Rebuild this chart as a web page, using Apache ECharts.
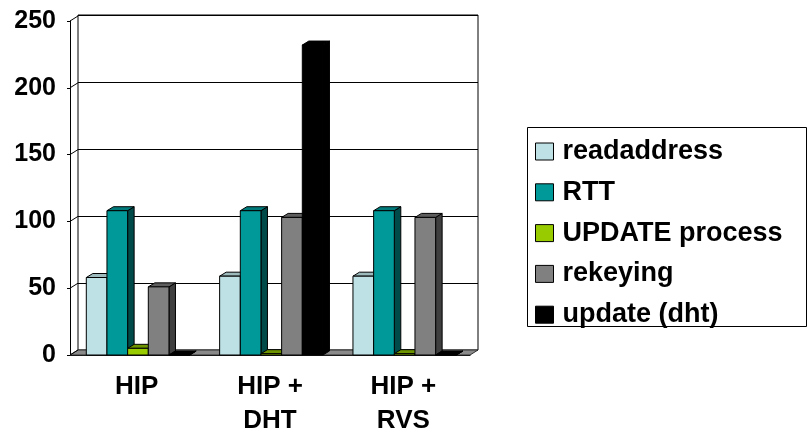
<!DOCTYPE html>
<html>
<head>
<meta charset="utf-8">
<script src="https://cdn.jsdelivr.net/npm/echarts@6/dist/echarts.min.js"></script>
<style>
  html, body { margin: 0; padding: 0; background: #fff; }
  #chart { width: 811px; height: 438px; }
</style>
</head>
<body>
<div id="chart"></div>
<script>
// Handover timing per scheme (ms)
const categories = ['HIP', 'HIP +\nDHT', 'HIP +\nRVS'];
const readaddress = [58, 59, 59];
const rtt = [108, 108, 108];
const updateProcess = [5, 1, 1];
const rekeying = [51, 103, 103];
const updateDht = [0, 232, 0];
const yTicks = [0, 50, 100, 150, 200, 250];
const seriesNames = ['readaddress', 'RTT', 'UPDATE process', 'rekeying', 'update (dht)'];
const seriesValues = [readaddress, rtt, updateProcess, rekeying, updateDht];

// front / top / side shades for the prism faces
const faces = [
  { front: '#BDE1E4', top: '#9CB9BC', side: '#6E8A8C' },
  { front: '#009999', top: '#007A7A', side: '#004A4A' },
  { front: '#99CC00', top: '#6E9400', side: '#4B6600' },
  { front: '#808080', top: '#5E5E5E', side: '#3F3F3F' },
  { front: '#000000', top: '#000000', side: '#000000' }
];

const FONT = "'Liberation Sans', Arial, sans-serif";
const DEPTH_X = 6.5, DEPTH_Y = 4;      // bar depth
const WALL_X = 8, WALL_Y = 5;          // plot box depth

function prism(k) {
  const f = faces[k];
  return function (params, api) {
    const c = api.value(0), v = api.value(1);
    const b = api.coord([c, 0]);
    const t = api.coord([c, v]);
    const cw = api.size([1, 0])[0];
    const bw = cw * 0.155;
    const x0 = b[0] - 2.5 * bw + k * bw + 1.3;
    const x1 = x0 + bw;
    const yb = b[1], yt = t[1];
    const edge = { stroke: '#000', lineWidth: 1, lineJoin: 'miter' };
    return {
      type: 'group',
      children: [
        { type: 'polygon',
          shape: { points: [[x1, yt], [x1 + DEPTH_X, yt - DEPTH_Y], [x1 + DEPTH_X, yb - DEPTH_Y], [x1, yb]] },
          style: Object.assign({ fill: f.side }, edge) },
        { type: 'polygon',
          shape: { points: [[x0, yt], [x0 + DEPTH_X, yt - DEPTH_Y], [x1 + DEPTH_X, yt - DEPTH_Y], [x1, yt]] },
          style: Object.assign({ fill: f.top }, edge) },
        { type: 'rect',
          shape: { x: x0, y: yt, width: bw, height: yb - yt },
          style: Object.assign({ fill: f.front }, edge) }
      ]
    };
  };
}

const barSeries = seriesNames.map((name, k) => ({
  name: name,
  type: 'custom',
  xAxisIndex: 0,
  yAxisIndex: 0,
  z: 3,
  itemStyle: { color: faces[k].front },
  encode: { x: 0, y: 1 },
  data: categories.map((_, i) => [i, seriesValues[k][i]]),
  renderItem: prism(k)
}));

// grey floor of the plot box
const floorSeries = {
  type: 'custom',
  xAxisIndex: 0,
  yAxisIndex: 0,
  z: 2,
  silent: true,
  data: [[0, 0]],
  renderItem: function (params) {
    const cs = params.coordSys;
    const yb = cs.y + cs.height;
    return {
      type: 'polygon',
      shape: { points: [[cs.x, yb], [cs.x + cs.width, yb], [cs.x + cs.width + WALL_X, yb - WALL_Y], [cs.x + WALL_X, yb - WALL_Y]] },
      style: { fill: '#8A8A8A', stroke: '#333', lineWidth: 1 }
    };
  }
};

// gridline links across the left side wall
const sideWallSeries = {
  type: 'custom',
  xAxisIndex: 0,
  yAxisIndex: 0,
  z: 2,
  silent: true,
  data: yTicks.map(v => [0, v]),
  renderItem: function (params, api) {
    const cs = params.coordSys;
    const p = api.coord([0, api.value(1)]);
    return {
      type: 'line',
      shape: { x1: cs.x, y1: p[1], x2: cs.x + WALL_X, y2: p[1] - WALL_Y },
      style: { stroke: '#000', lineWidth: 1 }
    };
  }
};

const chart = echarts.init(document.getElementById('chart'), null, { renderer: 'canvas' });
chart.setOption({
  animation: false,
  backgroundColor: '#fff',
  graphic: [{
    type: 'rect',
    z: 0,
    shape: { x: 527.5, y: 127.5, width: 279, height: 199 },
    style: { fill: '#fff', stroke: '#000', lineWidth: 1 }
  }],
  legend: {
    orient: 'vertical',
    left: 535,
    top: 138,
    padding: 0,
    z: 5,
    itemWidth: 18,
    itemHeight: 17,
    itemGap: 13.8,
    selectedMode: false,
    data: seriesNames.map(n => ({ name: n, icon: 'rect' })),
    itemStyle: { borderColor: '#000', borderWidth: 1 },
    textStyle: { fontFamily: FONT, fontSize: 27, fontWeight: 'bold', color: '#000', lineHeight: 26, padding: [0, 0, 0, 4] }
  },
  grid: [
    { left: 70, right: 341, top: 21, bottom: 83 },
    { left: 78, right: 333, top: 15, bottom: 88, show: true, borderColor: '#000', borderWidth: 1, backgroundColor: '#fff' }
  ],
  xAxis: [
    {
      type: 'category',
      gridIndex: 0,
      data: categories,
      axisLine: { lineStyle: { color: '#000', width: 1 } },
      axisTick: { length: 5, lineStyle: { color: '#000' } },
      axisLabel: { color: '#000', fontFamily: FONT, fontSize: 26, fontWeight: 'bold', lineHeight: 34, margin: 15 },
      splitLine: { show: false }
    },
    {
      type: 'category',
      gridIndex: 1,
      data: categories,
      show: false
    }
  ],
  yAxis: [
    {
      type: 'value',
      gridIndex: 0,
      min: 0,
      max: 250,
      interval: 50,
      axisLine: { show: true, lineStyle: { color: '#000', width: 1 } },
      axisTick: { show: true, length: 3, lineStyle: { color: '#000' } },
      axisLabel: { color: '#000', fontFamily: FONT, fontSize: 25, fontWeight: 'bold', margin: 14 },
      splitLine: { show: false }
    },
    {
      type: 'value',
      gridIndex: 1,
      min: 0,
      max: 250,
      interval: 50,
      axisLine: { show: false },
      axisTick: { show: false },
      axisLabel: { show: false },
      splitLine: { show: true, lineStyle: { color: '#000', width: 1 } }
    }
  ],
  series: [floorSeries, sideWallSeries].concat(barSeries)
});
</script>
</body>
</html>
